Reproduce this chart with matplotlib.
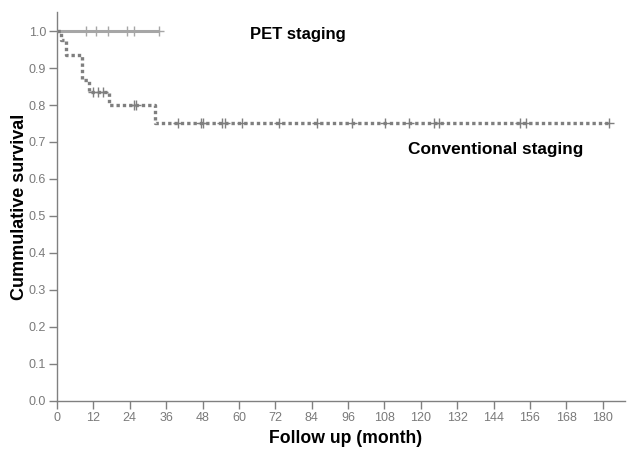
import matplotlib
matplotlib.use("Agg")
import matplotlib.pyplot as plt
import numpy as np

plt.rcParams['font.family'] = ['Liberation Sans', 'DejaVu Sans']

# PET staging group: no events
pet_end = 33.5
pet_censor = [9.7, 12.8, 16.9, 23.1, 25.4, 33.5]
pet_surv = 1.0

# Conventional staging: step times and survival levels
conv_event_times = [0.0, 1.2, 3.1, 8.3, 10.5, 17.2, 32.3]
conv_surv_levels = [1.0, 0.975, 0.934, 0.868, 0.835, 0.800, 0.752]
conv_end = 182.0
conv_censor = [11.9, 13.6, 15.2, 25.4, 26.2, 40.0, 47.5, 48.3, 54.3, 55.4,
               61.0, 73.2, 85.8, 97.2, 108.2, 116.2, 124.2, 126.1, 152.7,
               154.7, 182.0]

x_ticks = list(range(0, 181, 12))
y_ticks = [0.0, 0.1, 0.2, 0.3, 0.4, 0.5, 0.6, 0.7, 0.8, 0.9, 1.0]

fig = plt.figure(figsize=(6.27, 4.5), dpi=100)
ax = fig.add_axes([0.091, 0.109, 0.906, 0.864])

pet_col = '#a6a6a6'
conv_col = '#7f7f7f'

# PET line
ax.plot([0, pet_end], [pet_surv, pet_surv], color=pet_col, lw=2.2,
        solid_capstyle='butt', zorder=3)
ax.plot(pet_censor, [pet_surv] * len(pet_censor), linestyle='none',
        marker='+', markersize=7, mew=1.0, color=pet_col, zorder=4)

# Conventional step line
xs = conv_event_times + [conv_end]
ys = conv_surv_levels + [conv_surv_levels[-1]]
ax.step(xs, ys, where='post', color=conv_col, lw=2.4,
        linestyle=(0, (1, 0.9)), dash_capstyle='butt', zorder=3)


def surv_at(t):
    s = conv_surv_levels[0]
    for et, lv in zip(conv_event_times, conv_surv_levels):
        if t >= et:
            s = lv
    return s


ax.plot(conv_censor, [surv_at(t) for t in conv_censor], linestyle='none',
        marker='+', markersize=7, mew=1.0, color=conv_col, zorder=4)

ax.set_xlim(0, 187.4)
ax.set_ylim(0, 1.051)
ax.set_xticks(x_ticks)
ax.set_xticklabels([str(t) for t in x_ticks])
ax.set_yticks(y_ticks)
ax.set_yticklabels([f"{v:.1f}" for v in y_ticks])

for s in ['top', 'right']:
    ax.spines[s].set_visible(False)
for s in ['left', 'bottom']:
    ax.spines[s].set_color('#808080')
    ax.spines[s].set_linewidth(1.0)
ax.tick_params(axis='both', colors='#808080', labelcolor='#7a7a7a',
               labelsize=9, length=6, width=1.0, direction='out', pad=2)

ax.set_xlabel('Follow up (month)', fontsize=12.7, fontweight='bold')
ax.set_ylabel('Cummulative survival', fontsize=13, fontweight='bold', labelpad=0.5)
ax.xaxis.set_label_coords(0.508, -0.074)

ax.text(250 / 627, 1 - 35 / 450, 'PET staging', transform=fig.transFigure,
        fontsize=12, fontweight='bold', va='center', ha='left')
ax.text(408 / 627, 1 - 150 / 450, 'Conventional staging', transform=fig.transFigure,
        fontsize=12.4, fontweight='bold', va='center', ha='left')

fig.savefig('out.png', dpi=100)
